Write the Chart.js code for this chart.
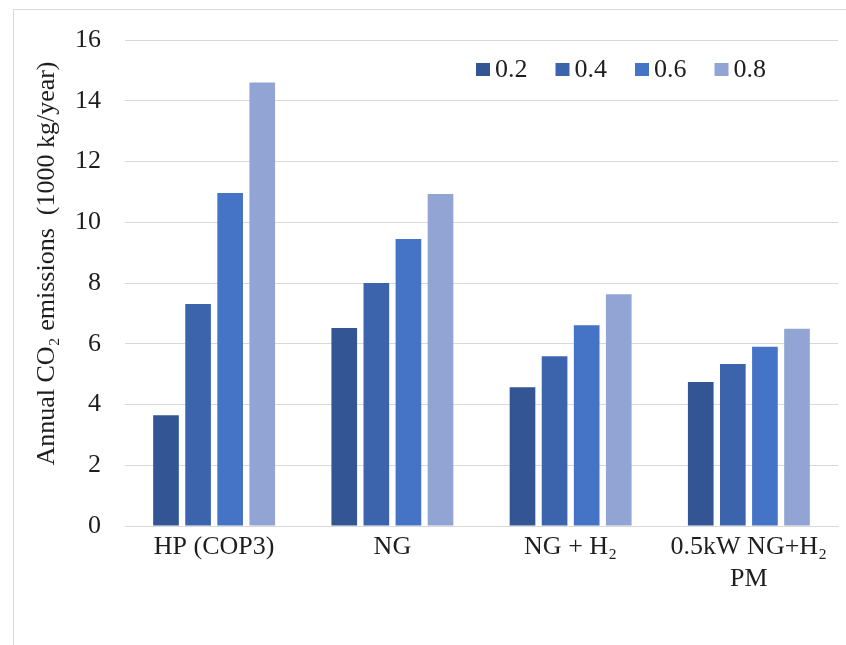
<!DOCTYPE html>
<html>
<head>
<meta charset="utf-8">
<script src="https://cdn.jsdelivr.net/npm/chart.js@4"></script>
<style>
  html, body { margin: 0; padding: 0; background: #fff; }
  #wrap { position: relative; width: 846px; height: 645px; }
</style>
</head>
<body>
<div id="wrap"><canvas id="chart" width="846" height="645"></canvas></div>
<script>
const categories = ['HP (COP3)', 'NG', 'NG + H₂', ['0.5kW NG+H₂', 'PM']];
const seriesNames = ['0.2', '0.4', '0.6', '0.8'];
const s02 = [3.65, 6.52, 4.57, 4.74];
const s04 = [7.31, 8.0, 5.59, 5.33];
const s06 = [10.96, 9.45, 6.61, 5.9];
const s08 = [14.6, 10.93, 7.63, 6.49];
const colors = ['#335593', '#3c64ad', '#4573c5', '#91a4d4'];

const FONT = 'Liberation Serif, Times New Roman, serif';
const TEXT = '#1e1e1e';
const SIZE = 26;

const frame = {
    id: 'frame',
    beforeDraw(chart) {
        const ctx = chart.ctx;
        ctx.save();
        ctx.fillStyle = '#fff';
        ctx.fillRect(0, 0, chart.width, chart.height);
        ctx.strokeStyle = '#d9d9d9';
        ctx.lineWidth = 1;
        ctx.beginPath();
        ctx.moveTo(13.5, chart.height);
        ctx.lineTo(13.5, 9.5);
        ctx.lineTo(chart.width, 9.5);
        ctx.stroke();
        ctx.restore();
    }
};

// legend sits inside the plot area, top right
const insideLegend = {
    id: 'insideLegend',
    afterDraw(chart) {
        const ctx = chart.ctx;
        ctx.save();
        ctx.font = SIZE + 'px ' + FONT;
        ctx.textBaseline = 'middle';
        ctx.textAlign = 'left';
        chart.data.datasets.forEach((ds, i) => {
            const x = 476 + i * 79.5;
            ctx.fillStyle = ds.backgroundColor;
            ctx.fillRect(x, 63, 14, 13);
            ctx.fillStyle = TEXT;
            ctx.fillText(ds.label, x + 19, 70);
        });
        ctx.restore();
    }
};

const data = [s02, s04, s06, s08];

new Chart(document.getElementById('chart'), {
    type: 'bar',
    data: {
        labels: categories,
        datasets: seriesNames.map((name, i) => ({
            label: name,
            data: data[i],
            backgroundColor: colors[i],
            categoryPercentage: 0.72,
            barPercentage: 0.8
        }))
    },
    options: {
        responsive: false,
        animation: false,
        layout: { padding: { left: 14, top: 40, right: 8, bottom: 0 } },
        plugins: {
            legend: { display: false },
            tooltip: { enabled: false }
        },
        scales: {
            x: {
                grid: { display: false, drawTicks: false },
                border: { display: true, color: '#d9d9d9', width: 1 },
                ticks: {
                    color: TEXT,
                    font: { family: FONT, size: SIZE, lineHeight: 1.2 },
                    padding: 6,
                    maxRotation: 0,
                    autoSkip: false
                },
                afterFit(scale) { scale.height = 119; }
            },
            y: {
                min: 0,
                max: 16,
                grid: { color: '#d9d9d9', lineWidth: 1, drawTicks: false },
                border: { display: false },
                ticks: {
                    stepSize: 2,
                    color: TEXT,
                    font: { family: FONT, size: SIZE },
                    padding: 24
                },
                title: {
                    display: true,
                    // leading spaces nudge the centred title up a little, like the original
                    text: '      Annual CO₂ emissions  (1000 kg/year)',
                    color: TEXT,
                    font: { family: FONT, size: SIZE },
                    padding: { top: 18, bottom: 0 }
                },
                afterFit(scale) { scale.width = 111; }
            }
        }
    },
    plugins: [frame, insideLegend]
});
</script>
</body>
</html>
